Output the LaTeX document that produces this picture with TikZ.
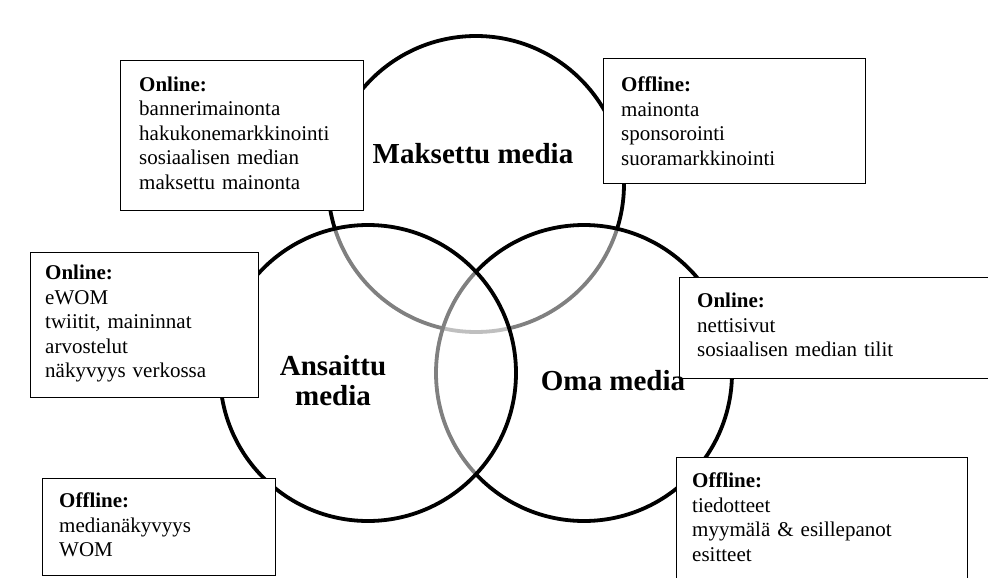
\documentclass[tikz,border=0pt]{standalone}
\usepackage{fontspec}
\setmainfont{Liberation Serif}
\usetikzlibrary{positioning}
\tikzset{
  ring/.style={line width=3.8pt, draw=black, fill=white, fill opacity=0.5},
  mediabox/.style={draw, line width=1.3pt, fill=white, anchor=north west, inner sep=0pt},
  boxtext/.style={inner sep=0pt, text width=240pt, align=left, font=\fontsize{21}{24.5}\selectfont},
  medialabel/.style={inner sep=0pt, align=center, font=\fontsize{29}{30}\selectfont\bfseries}
}
\begin{document}
\begin{tikzpicture}[x=1pt,y=-1pt]
  \useasboundingbox (0,0) rectangle (988,578);
  % maksettu, oma, ansaittu
  \foreach \cx/\cy in {476/184,584/373,368/373}
    \draw[ring] (\cx,\cy) circle (148);

  \node[mediabox, minimum width=243pt, minimum height=150pt] (paidonline) at (120,60) {};
  \node[boxtext, below right=16.7pt and 19pt of paidonline.north west] (paidonlinetext)
    {\textbf{Online:}\\ bannerimainonta\\ hakukonemarkkinointi\\ sosiaalisen median\\ maksettu mainonta};

  \node[mediabox, minimum width=262pt, minimum height=125pt] (paidoffline) at (603,58) {};
  \node[boxtext, below right=19pt and 18pt of paidoffline.north west] (paidofflinetext)
    {\textbf{Offline:}\\ mainonta\\ sponsorointi\\ suoramarkkinointi};

  \node[mediabox, minimum width=228pt, minimum height=145pt] (earnedonline) at (30,252) {};
  \node[boxtext, below right=13pt and 15pt of earnedonline.north west] (earnedonlinetext)
    {\textbf{Online:}\\ eWOM\\ twiitit, maininnat\\ arvostelut\\ näkyvyys verkossa};

  \node[mediabox, minimum width=233pt, minimum height=97pt] (earnedoffline) at (42,478) {};
  \node[boxtext, below right=15pt and 17pt of earnedoffline.north west] (earnedofflinetext)
    {\textbf{Offline:}\\ medianäkyvyys\\ WOM};

  \node[mediabox, minimum width=320pt, minimum height=101pt] (ownedonline) at (679,277) {};
  \node[boxtext, below right=16pt and 18pt of ownedonline.north west] (ownedonlinetext)
    {\textbf{Online:}\\ nettisivut\\ sosiaalisen median tilit};

  \node[mediabox, minimum width=291pt, minimum height=140pt] (ownedoffline) at (676,457) {};
  \node[boxtext, below right=16pt and 16pt of ownedoffline.north west] (ownedofflinetext)
    {\textbf{Offline:}\\ tiedotteet\\ myymälä \& esillepanot\\ esitteet};

  \node[medialabel] (paidlabel) at (473,154) {Maksettu media};
  \node[medialabel] (earnedlabel) at (333,381) {Ansaittu\\media};
  \node[medialabel] (ownedlabel) at (613,381) {Oma media};
\end{tikzpicture}
\end{document}
